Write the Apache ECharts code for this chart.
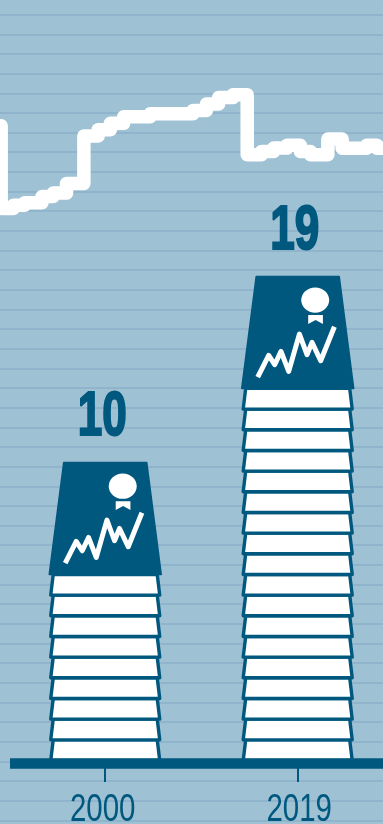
<!DOCTYPE html>
<html>
<head>
<meta charset="utf-8">
<style>html,body{margin:0;padding:0;background:#9ec1d4}#chart{width:383px;height:824px}</style>
<script src="https://cdn.jsdelivr.net/npm/echarts@6/dist/echarts.min.js"></script>
</head>
<body>
<div id="chart"></div>
<script>
// Stack of books per survey year
const years = [2000, 2019];
const bookCounts = [10, 19];
const yearLabels = ['2000', '2019'];

// White stepped trend: year at which each level starts
const trendYears = [1989.9, 1989.9, 1991.1, 1992.2, 1993.9, 1995.0, 1996.3, 1998.0, 1999.4, 2000.6, 2001.9, 2004.5, 2008.7, 2010.0, 2011.2, 2012.6, 2014.0, 2015.4, 2016.6, 2017.9, 2019.2, 2020.2, 2021.9, 2023.3, 2025.7, 2026.7, 2027.3];
const trendLevels = [35.35, 31.14, 31.30, 31.43, 31.75, 31.92, 32.41, 34.83, 35.15, 35.47, 35.81, 35.96, 36.13, 36.46, 36.78, 36.93, 33.87, 34.04, 34.21, 34.35, 34.04, 33.87, 34.67, 34.20, 34.35, 34.20, 34.20];

const INK = '#01587f';
const PAPER = '#ffffff';
const RULE = '#8bafc9';
const BG = '#9ec1d4';

const chart = echarts.init(document.getElementById('chart'), null, { renderer: 'canvas' });

function trapezoid(cx, yBottom, yTop, halfBottom, halfTop) {
  return [[cx - halfBottom, yBottom], [cx + halfBottom, yBottom], [cx + halfTop, yTop], [cx - halfTop, yTop]];
}

// One stack: white pages, the closed cover on top, its emblem, the count and the year below the axis
function renderStack(params, api) {
  const year = api.value(0);
  const count = api.value(1);
  const base = api.coord([year, 0]);
  const cx = base[0];
  const children = [];

  for (let k = 1; k < count; k++) {
    const yBottom = api.coord([year, k - 1])[1];
    const yTop = api.coord([year, k])[1];
    children.push({
      type: 'polygon',
      shape: { points: trapezoid(cx, yBottom, yTop, 54.5, 52) },
      style: { fill: PAPER, stroke: INK, lineWidth: 3.4, lineJoin: 'round' }
    });
  }

  const coverBottom = api.coord([year, count - 1])[1];
  const coverTop = coverBottom - 112;
  children.push({
    type: 'polygon',
    shape: { points: trapezoid(cx, coverBottom, coverTop, 56, 41.5) },
    style: { fill: INK, stroke: INK, lineWidth: 1.5, lineJoin: 'round' }
  });

  children.push({
    type: 'ellipse',
    shape: { cx: cx + 17.5, cy: coverTop + 23.7, rx: 14, ry: 12.7 },
    style: { fill: PAPER }
  });
  children.push({
    type: 'polygon',
    shape: {
      points: [
        [cx + 10.5, coverTop + 38.7], [cx + 25.2, coverTop + 38.7],
        [cx + 25.2, coverTop + 47.5], [cx + 17.9, coverTop + 43.5],
        [cx + 10.5, coverTop + 47.5]
      ]
    },
    style: { fill: PAPER }
  });
  const zigzag = [[-40, 100.7], [-29, 79], [-23, 88.3], [-16.7, 75], [-9, 95], [1.7, 57.7], [9.3, 78.3], [14.3, 66], [23, 84.3], [36.7, 50.3]];
  children.push({
    type: 'polyline',
    shape: { points: zigzag.map(p => [cx + p[0], coverTop + p[1]]) },
    style: { fill: 'none', stroke: PAPER, lineWidth: 5, lineJoin: 'round', lineCap: 'butt' }
  });

  // count above the cover, squeezed into a heavy condensed look
  children.push({
    type: 'text',
    x: cx - 3,
    y: coverTop - 13,
    scaleX: 0.7,
    style: {
      text: String(count),
      fill: INK,
      stroke: INK,
      lineWidth: 2.2,
      font: 'bold 63px "Liberation Sans", sans-serif',
      textAlign: 'center',
      textVerticalAlign: 'bottom'
    }
  });

  // year label under its tick
  children.push({
    type: 'text',
    x: cx + (params.dataIndex === 0 ? -2.5 : 1.5),
    y: base[1] + 30,
    scaleX: 0.755,
    style: {
      text: yearLabels[params.dataIndex],
      fill: INK,
      font: '39px "Liberation Sans", sans-serif',
      textAlign: 'center',
      textVerticalAlign: 'top'
    }
  });

  return { type: 'group', children };
}

chart.setOption({
  animation: false,
  backgroundColor: BG,
  grid: [
    { left: 0, right: 0, top: 14.7, bottom: 3.7 },
    { left: 10, right: 0, top: 0, bottom: 63.5 }
  ],
  xAxis: [
    { gridIndex: 0, type: 'value', min: 1989.785, max: 2027.3, show: false },
    {
      gridIndex: 1,
      type: 'value',
      min: 1990.6,
      max: 2027.42,
      position: 'bottom',
      offset: 2.5,
      z: 5,
      splitLine: { show: false },
      axisLine: { show: true, onZero: false, lineStyle: { color: INK, width: 10.5, cap: 'butt' } },
      axisTick: { show: true, customValues: years, length: 19, lineStyle: { color: INK, width: 2 } },
      axisLabel: { show: false }
    }
  ],
  yAxis: [
    {
      gridIndex: 0,
      type: 'value',
      min: 0,
      max: 41,
      interval: 1,
      axisLine: { show: false },
      axisTick: { show: false },
      axisLabel: { show: false },
      splitLine: { show: true, lineStyle: { color: RULE, width: 1.5 } }
    },
    { gridIndex: 1, type: 'value', min: 0, max: 36.79, show: false, splitLine: { show: false } }
  ],
  series: [
    {
      type: 'line',
      xAxisIndex: 0,
      yAxisIndex: 0,
      step: 'end',
      symbol: 'none',
      clip: false,
      data: trendYears.map((y, i) => [y, trendLevels[i]]),
      lineStyle: { color: PAPER, width: 13.5, cap: 'round', join: 'round' },
      z: 2
    },
    {
      type: 'custom',
      xAxisIndex: 1,
      yAxisIndex: 1,
      clip: false,
      renderItem: renderStack,
      encode: { x: 0, y: 1 },
      data: years.map((y, i) => [y, bookCounts[i]]),
      z: 3
    }
  ]
});
</script>
</body>
</html>
